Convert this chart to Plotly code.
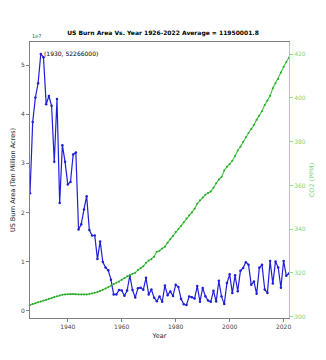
import plotly.graph_objects as go

years = list(range(1926, 2023))

burn_acres = [
    23900000, 38400000, 43400000, 46300000, 52266000, 51600000, 42000000, 43700000,
    41700000, 30300000, 43100000, 21900000, 33700000, 30300000, 25700000, 26200000,
    31800000, 32200000, 16500000, 17600000, 20600000, 23300000, 16400000, 15300000,
    15300000, 10500000, 14100000, 9900000, 8800000, 8200000, 6300000, 3300000,
    3300000, 4200000, 4100000, 3036219, 4078894, 7120768, 4197309, 2652112,
    4574389, 4658586, 4231996, 6689081, 3278565, 4278472, 2641166, 1915273,
    2879095, 1791327, 5109926, 3152644, 3910913, 2986826, 5260825, 4814206,
    2382036, 1323666, 1148409, 2896147, 2719162, 2447296, 5009290, 1827310,
    4621621, 2953578, 2069929, 1797574, 4073579, 1840546, 6065998, 2856959,
    1329704, 5626093, 7393493, 3570911, 7184712, 3960842, 8097880, 8689389,
    9873745, 9328045, 5292468, 5921786, 3422724, 8711367, 9326238, 4319546,
    3595613, 10125149, 5509995, 10026086, 8767492, 4664364, 10122336, 7125643,
    7577183,
]

co2_ppm = [
    305.4, 305.8, 306.2, 306.6, 307.0, 307.4, 307.8, 308.2, 308.6, 309.0,
    309.4, 309.7, 310.0, 310.2, 310.3, 310.4, 310.4, 310.3, 310.2, 310.1,
    310.1, 310.2, 310.4, 310.6, 310.9, 311.3, 311.8, 312.3, 312.9, 313.5,
    314.2, 314.9, 315.5, 315.98, 316.91, 317.64, 318.45, 318.99, 319.62, 320.04,
    321.37, 322.18, 323.05, 324.62, 325.68, 326.32, 327.46, 329.68, 330.19, 331.13,
    332.03, 333.84, 335.41, 336.84, 338.76, 340.12, 341.48, 343.15, 344.87, 346.35,
    347.61, 349.31, 351.69, 353.20, 354.45, 355.70, 356.54, 357.21, 358.96, 360.97,
    362.74, 363.88, 366.84, 368.54, 369.71, 371.32, 373.45, 375.98, 377.70, 379.98,
    382.09, 384.02, 385.83, 387.64, 390.10, 391.85, 394.06, 396.74, 398.81, 401.01,
    404.41, 406.76, 408.72, 411.66, 414.24, 416.45, 418.56,
]

left_ticks = [0, 1e7, 2e7, 3e7, 4e7, 5e7]
left_tick_labels = ["0", "1", "2", "3", "4", "5"]
right_ticks = [300, 320, 340, 360, 380, 400, 420]
x_ticks = [1940, 1960, 1980, 2000, 2020]

title_text = "US Burn Area Vs. Year 1926-2022 Average = 11950001.8"
peak_year = 1930
peak_value = 52266000

FONT = "DejaVu Sans"
GRAY = "#808080"
TICKCOL = "#444444"
LGREEN = "#90e090"

fig = go.Figure()
fig.add_trace(go.Scatter(
    x=years, y=burn_acres, mode="lines+markers",
    line=dict(color="#1f1fd8", width=1.2),
    marker=dict(color="#1f1fd8", size=2.5),
    yaxis="y", showlegend=False,
))
fig.add_trace(go.Scatter(
    x=years, y=co2_ppm, mode="lines+markers",
    line=dict(color="#3cc83c", width=1.1),
    marker=dict(color="#2aa52a", size=2),
    yaxis="y2", showlegend=False,
))

fig.update_layout(
    width=326, height=360,
    margin=dict(l=27, r=27, t=42, b=42),
    paper_bgcolor="white", plot_bgcolor="white",
    font=dict(family=FONT, size=6, color=TICKCOL),
    title=dict(text="<b>" + title_text + "</b>", x=0.5, xanchor="center",
               y=1 - 33 / 360, yanchor="middle",
               font=dict(family=FONT, size=6.0, color="black")),
    xaxis=dict(
        range=[1926, 2022], tickvals=x_ticks, showgrid=False, zeroline=False,
        showline=True, linecolor=GRAY, linewidth=1, mirror=True,
        ticks="outside", ticklen=3, tickcolor=GRAY,
        tickfont=dict(family=FONT, size=6, color=TICKCOL),
        title=dict(text="Year", font=dict(family=FONT, size=6.5, color="#222222"), standoff=4),
    ),
    yaxis=dict(
        range=[-0.15e7, 5.47e7], tickvals=left_ticks, ticktext=left_tick_labels,
        showgrid=False, zeroline=False, showline=True, linecolor=GRAY, linewidth=1,
        ticks="outside", ticklen=3, tickcolor=GRAY,
        tickfont=dict(family=FONT, size=6, color=TICKCOL),
        title=dict(text="US Burn Area (Ten Million Acres)",
                   font=dict(family=FONT, size=6.5, color="#222222"), standoff=4),
    ),
    yaxis2=dict(
        overlaying="y", side="right", range=[299.4, 425.6], tickvals=right_ticks,
        showgrid=False, zeroline=False, showline=True, linecolor=LGREEN, linewidth=1,
        ticks="outside", ticklen=3, tickcolor=LGREEN,
        tickfont=dict(family=FONT, size=6, color="#7ed67e"),
        title=dict(text="CO2 (PPM)", font=dict(family=FONT, size=6.5, color="#7ed67e"), standoff=4),
    ),
    annotations=[
        dict(x=peak_year, y=peak_value, xref="x", yref="y",
             text="(%d, %d)" % (peak_year, peak_value), showarrow=False,
             xanchor="left", yanchor="middle", xshift=1,
             font=dict(family=FONT, size=6, color="black")),
        dict(x=0, y=1, xref="paper", yref="paper", text="1e7", showarrow=False,
             xanchor="left", yanchor="bottom", yshift=1,
             font=dict(family=FONT, size=5, color=TICKCOL)),
    ],
)

fig.write_html("out.html")
